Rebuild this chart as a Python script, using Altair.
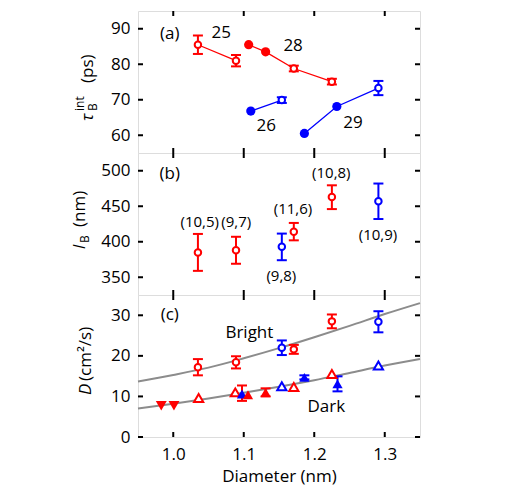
import altair as alt
import pandas as pd

FONT = "Open Sans"
RED = "#ff0000"
BLUE = "#0000ff"
GRAY = "#8c8c8c"
W = 282
H = 142
XDOM = [0.95, 1.35]
XTICKS = [1.0, 1.1, 1.2, 1.3]

# ---------------- Panel (a) ----------------
a_d = [1.035, 1.089, 1.107, 1.131, 1.171, 1.225, 1.110, 1.154, 1.186, 1.232, 1.291]
a_tau = [85.5, 81.0, 85.5, 83.5, 78.8, 75.1, 66.8, 69.9, 60.5, 68.1, 73.3]
a_err = [2.6, 1.6, 0, 0, 0.8, 0.8, 0, 0.8, 0, 0, 2.0]
a_color = ["red", "red", "red", "red", "red", "red", "blue", "blue", "blue", "blue", "blue"]
a_fill = ["open", "open", "filled", "filled", "open", "open", "filled", "open", "filled", "filled", "open"]
a_group = ["25", "25", "28", "28", "28", "28", "26", "26", "29", "29", "29"]
a_yticks = [60, 70, 80, 90]
a_lab_text = ["25", "28", "26", "29", "(a)"]
a_lab_d = [1.068, 1.170, 1.132, 1.255, 0.995]
a_lab_v = [88.9, 85.1, 62.6, 63.5, 88.6]

# ---------------- Panel (b) ----------------
b_d = [1.035, 1.089, 1.154, 1.171, 1.225, 1.291]
b_l = [385, 388, 393, 414, 463, 457]
b_lo = [359, 369, 374, 402, 446, 432]
b_hi = [411, 407, 411.5, 426.5, 479.5, 482]
b_color = ["red", "red", "blue", "red", "red", "blue"]
b_yticks = [350, 400, 450, 500]
b_lab_text = ["(10,5)", "(9,7)", "(9,8)", "(11,6)", "(10,8)", "(10,9)", "(b)"]
b_lab_d = [1.0375, 1.0894, 1.1533, 1.1699, 1.2242, 1.2904, 0.995]
b_lab_v = [427.8, 427.8, 351.8, 445.7, 497.3, 409.5, 495.0]

# ---------------- Panel (c) ----------------
cb_d = [1.035, 1.089, 1.154, 1.171, 1.225, 1.291]
cb_v = [17.2, 18.4, 22.0, 21.6, 28.5, 28.4]
cb_err = [2.0, 1.5, 1.8, 1.1, 1.7, 2.6]
cb_color = ["red", "red", "blue", "red", "red", "blue"]

cd_d = [0.983, 1.001, 1.036, 1.088, 1.0975, 1.0975, 1.106, 1.131, 1.154, 1.171, 1.186, 1.225, 1.233, 1.291]
cd_v = [7.7, 7.7, 9.6, 11.0, 10.8, 10.6, 10.4, 11.0, 12.5, 12.3, 14.7, 15.5, 13.1, 17.6]
cd_err = [0, 0, 0, 0, 1.9, 0, 0, 1.0, 0, 0, 0.5, 0, 1.85, 0]
cd_color = ["red", "red", "red", "red", "red", "blue", "red", "red", "blue", "red", "blue", "red", "blue", "blue"]
cd_shape = ["down", "down", "up", "up", "none", "up", "up", "up", "up", "up", "up", "up", "up", "up"]
cd_fill = ["filled", "filled", "open", "open", "filled", "filled", "filled", "filled", "open", "open", "filled", "open", "filled", "open"]

fit_d = [0.95, 1.0, 1.05, 1.1, 1.15, 1.2, 1.25, 1.3, 1.35]
fit_bright = [13.7, 15.3, 17.1, 19.4, 21.9, 24.6, 27.4, 30.3, 33.0]
fit_dark = [7.0, 8.2, 9.5, 10.9, 12.4, 14.0, 15.8, 17.6, 19.2]
c_yticks = [0, 10, 20, 30]
c_lab_text = ["Bright", "Dark", "(c)"]
c_lab_d = [1.108, 1.217, 0.995]
c_lab_v = [25.7, 7.4, 30.0]

cscale = alt.Scale(domain=["red", "blue"], range=[RED, BLUE])


def xenc(show_axis):
    sc = alt.Scale(domain=XDOM, nice=False, zero=False)
    if show_axis:
        ax = alt.Axis(values=XTICKS, format=".1f", ticks=False, domain=False, grid=False,
                      labelFont=FONT, labelFontSize=17, labelPadding=9, labelColor="black",
                      title="Diameter (nm)", titleFont=FONT, titleFontSize=17,
                      titleFontWeight="normal", titlePadding=6, titleColor="black")
    else:
        ax = None
    return lambda f="d": alt.X(f"{f}:Q", scale=sc, axis=ax)


def yenc(dom, ticks):
    sc = alt.Scale(domain=dom, nice=False, zero=False)
    ax = alt.Axis(values=ticks, ticks=False, domain=False, grid=False, labelFont=FONT,
                  labelFontSize=17, labelPadding=8, labelColor="black", title=None)
    return lambda f="v": alt.Y(f"{f}:Q", scale=sc, axis=ax)


def frame_ticks(X, Y, yticks):
    xt = pd.DataFrame({"d": XTICKS})
    yt = pd.DataFrame({"v": yticks})
    base_x = alt.Chart(xt).mark_rule(color="black", strokeWidth=2)
    base_y = alt.Chart(yt).mark_rule(color="black", strokeWidth=2)
    return [
        base_x.encode(x=X(), y=alt.value(0), y2=alt.value(5)),
        base_x.encode(x=X(), y=alt.value(H - 5), y2=alt.value(H)),
        base_y.encode(y=Y(), x=alt.value(0), x2=alt.value(5)),
        base_y.encode(y=Y(), x=alt.value(W - 5), x2=alt.value(W)),
    ]


def errbars(df, X, Y):
    e = df[df["err"] > 0]
    rule = alt.Chart(e).mark_rule(strokeWidth=2).encode(
        x=X(), y=Y("lo"), y2="hi:Q", color=alt.Color("color:N", scale=cscale, legend=None))
    lo = alt.Chart(e).mark_tick(orient="horizontal", size=10, thickness=2, opacity=1).encode(
        x=X(), y=Y("lo"), color=alt.Color("color:N", scale=cscale, legend=None))
    hi = alt.Chart(e).mark_tick(orient="horizontal", size=10, thickness=2, opacity=1).encode(
        x=X(), y=Y("hi"), color=alt.Color("color:N", scale=cscale, legend=None))
    return [rule, lo, hi]


def points(df, X, Y, shape, size_open, size_filled):
    op = df[df["fill"] == "open"]
    fi = df[df["fill"] == "filled"]
    layers = []
    if len(op):
        layers.append(alt.Chart(op).mark_point(shape=shape, size=size_open, strokeWidth=2,
                                               filled=True, opacity=1).encode(
            x=X(), y=Y(), fill=alt.value("white"),
            stroke=alt.Stroke("color:N", scale=cscale, legend=None)))
    if len(fi):
        layers.append(alt.Chart(fi).mark_point(shape=shape, size=size_filled, filled=True,
                                               opacity=1).encode(
            x=X(), y=Y(), color=alt.Color("color:N", scale=cscale, legend=None)))
    return layers


def labels(text, d, v, X, Y, size=17):
    df = pd.DataFrame({"t": text, "d": d, "v": v})
    return alt.Chart(df).mark_text(font=FONT, fontSize=size, color="black", align="center",
                                   baseline="middle").encode(x=X(), y=Y(), text="t:N")


def title_piece(txt, x, y, size=17, italic=False):
    one = pd.DataFrame({"k": [0]})
    return alt.Chart(one).mark_text(font=FONT, fontSize=size, angle=270, align="left",
                                    baseline="alphabetic", color="black",
                                    fontStyle="italic" if italic else "normal").encode(
        x=alt.value(x), y=alt.value(y), text=alt.value(txt))


# ---------- build panel a ----------
Xa = xenc(False)
Ya = yenc([55, 95], a_yticks)
dfa = pd.DataFrame({"d": a_d, "v": a_tau, "err": a_err, "color": a_color, "fill": a_fill, "g": a_group})
dfa["lo"] = dfa["v"] - dfa["err"]
dfa["hi"] = dfa["v"] + dfa["err"]
lines_a = alt.Chart(dfa).mark_line(strokeWidth=1.3).encode(
    x=Xa(), y=Ya(), detail="g:N", color=alt.Color("color:N", scale=cscale, legend=None))
panel_a = alt.layer(
    *frame_ticks(Xa, Ya, a_yticks), lines_a, *errbars(dfa, Xa, Ya),
    *points(dfa, Xa, Ya, "circle", 42, 85),
    labels(a_lab_text, a_lab_d, a_lab_v, Xa, Ya),
    title_piece("τ", -45, 110, 17, True),
    title_piece("B", -41, 100, 12),
    title_piece("int", -54, 100, 12),
    title_piece("(ps)", -45, 72, 17),
).properties(width=W, height=H)

# ---------- build panel b ----------
Xb = xenc(False)
Yb = yenc([325, 525], b_yticks)
dfb = pd.DataFrame({"d": b_d, "v": b_l, "lo": b_lo, "hi": b_hi, "color": b_color})
dfb["err"] = dfb["hi"] - dfb["lo"]
dfb["fill"] = "open"
panel_b = alt.layer(
    *frame_ticks(Xb, Yb, b_yticks), *errbars(dfb, Xb, Yb),
    *points(dfb, Xb, Yb, "circle", 42, 85),
    labels(b_lab_text[:-1], b_lab_d[:-1], b_lab_v[:-1], Xb, Yb, 15),
    labels(b_lab_text[-1:], b_lab_d[-1:], b_lab_v[-1:], Xb, Yb, 17),
    title_piece("l", -53, 96, 17, True),
    title_piece("B", -49, 90, 12),
    title_piece("(nm)", -53, 74, 17),
).properties(width=W, height=H)

# ---------- build panel c ----------
Xc = xenc(True)
Yc = yenc([0, 35], c_yticks)
dfcb = pd.DataFrame({"d": cb_d, "v": cb_v, "err": cb_err, "color": cb_color})
dfcb["lo"] = dfcb["v"] - dfcb["err"]
dfcb["hi"] = dfcb["v"] + dfcb["err"]
dfcb["fill"] = "open"
dfcd = pd.DataFrame({"d": cd_d, "v": cd_v, "err": cd_err, "color": cd_color,
                     "shape": cd_shape, "fill": cd_fill})
dfcd["lo"] = dfcd["v"] - dfcd["err"]
dfcd["hi"] = dfcd["v"] + dfcd["err"]
dffit = pd.DataFrame({"d": fit_d * 2, "v": fit_bright + fit_dark,
                      "g": ["bright"] * len(fit_d) + ["dark"] * len(fit_d)})
fit = alt.Chart(dffit).mark_line(strokeWidth=2, color=GRAY, interpolate="monotone").encode(
    x=Xc(), y=Yc(), detail="g:N")
panel_c = alt.layer(
    *frame_ticks(Xc, Yc, c_yticks), fit,
    *errbars(dfcb, Xc, Yc), *errbars(dfcd, Xc, Yc),
    *points(dfcb, Xc, Yc, "circle", 42, 85),
    *points(dfcd[dfcd["shape"] == "up"], Xc, Yc, "triangle-up", 85, 105),
    *points(dfcd[dfcd["shape"] == "down"], Xc, Yc, "triangle-down", 85, 120),
    labels(c_lab_text, c_lab_d, c_lab_v, Xc, Yc),
    title_piece("D", -47, 100, 17, True),
    title_piece("(cm²/s)", -47, 86, 17),
).properties(width=W, height=H)

chart = alt.vconcat(panel_a, panel_b, panel_c, spacing=0, bounds="flush").properties(
    padding={"left": 70, "top": 9, "right": 5, "bottom": 5}
).configure_view(stroke="black", strokeWidth=2).configure(background="white")

chart.save("out.html", embed_options={"renderer": "svg", "actions": False})
